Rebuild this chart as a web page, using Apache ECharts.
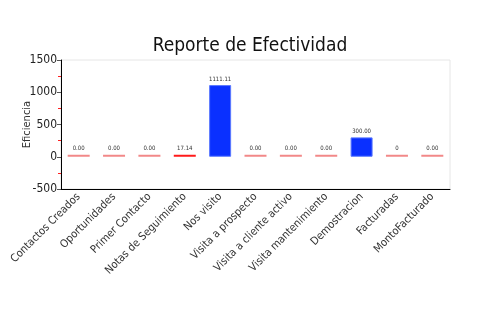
<!DOCTYPE html>
<html>
<head>
<meta charset="utf-8">
<script src="https://cdn.jsdelivr.net/npm/echarts@6/dist/echarts.min.js"></script>
<style>
  html, body { margin: 0; padding: 0; background: #fff; }
  #chart { width: 500px; height: 330px; }
</style>
</head>
<body>
<div id="chart"></div>
<script>
// Effectiveness report: one value per stage of the sales process
const categories = [
  'Contactos Creados', 'Oportunidades', 'Primer Contacto', 'Notas de Seguimiento',
  'Nos visito', 'Visita a prospecto', 'Visita a cliente activo', 'Visita mantenimiento',
  'Demostracion', 'Facturadas', 'MontoFacturado'
];
const values = [0, 0, 0, 17.14, 1111.11, 0, 0, 0, 300, 0, 0];
const valueText = ['0.00', '0.00', '0.00', '17.14', '1111.11', '0.00', '0.00', '0.00', '300.00', '0', '0.00'];
const yTicks = [-500, 0, 500, 1000, 1500];

const FONT = "'DejaVu Sans Condensed', 'Liberation Sans Narrow', sans-serif";

function barStyle(v) {
  if (v >= 100) return { color: '#0a30ff', borderColor: '#5a78ff', borderWidth: 1 };
  if (v > 0) return { color: '#ff1a1a' };
  return { color: '#f28888' };
}

const chart = echarts.init(document.getElementById('chart'), null, { renderer: 'canvas' });
chart.setOption({
  backgroundColor: '#fff',
  animation: false,
  textStyle: { fontFamily: FONT },
  title: {
    text: 'Reporte de Efectividad',
    left: 'center',
    top: 32,
    textStyle: { fontFamily: FONT, fontSize: 19, fontWeight: 'normal', color: '#111' }
  },
  grid: {
    left: 61, right: 50, top: 60, bottom: 141,
    outerBoundsMode: 'none',
    containLabel: false,
    show: true, borderColor: '#e6e6e6', borderWidth: 1
  },
  xAxis: {
    type: 'category',
    data: categories,
    axisLine: { onZero: false, lineStyle: { color: '#000', width: 1 } },
    axisTick: { alignWithLabel: true, length: 4, lineStyle: { color: '#444' } },
    axisLabel: {
      rotate: 45, interval: 0, fontSize: 11, color: '#333', fontFamily: FONT, margin: 6
    }
  },
  yAxis: {
    type: 'value',
    min: yTicks[0],
    max: yTicks[yTicks.length - 1],
    interval: 500,
    name: 'Eficiencia',
    nameLocation: 'middle',
    nameGap: 28,
    nameMoveOverlap: false,
    nameTextStyle: { fontSize: 11, color: '#333', fontFamily: FONT },
    axisLine: { show: true, lineStyle: { color: '#000', width: 1 } },
    axisTick: { show: true, length: 4, lineStyle: { color: '#555' } },
    minorTick: { show: true, splitNumber: 2, length: 3, lineStyle: { color: '#ff2020' } },
    splitLine: { show: false },
    axisLabel: {
      fontSize: 12, color: '#222', fontFamily: FONT, margin: 4,
      formatter: (v) => String(v)
    }
  },
  series: [{
    type: 'bar',
    barWidth: 22,
    barMinHeight: 2,
    data: values.map((v, i) => ({ value: v, itemStyle: barStyle(v), label: { formatter: valueText[i] } })),
    label: {
      show: true,
      position: 'top',
      distance: 3,
      fontSize: 6,
      color: '#333',
      fontFamily: FONT
    }
  }]
});
</script>
</body>
</html>
